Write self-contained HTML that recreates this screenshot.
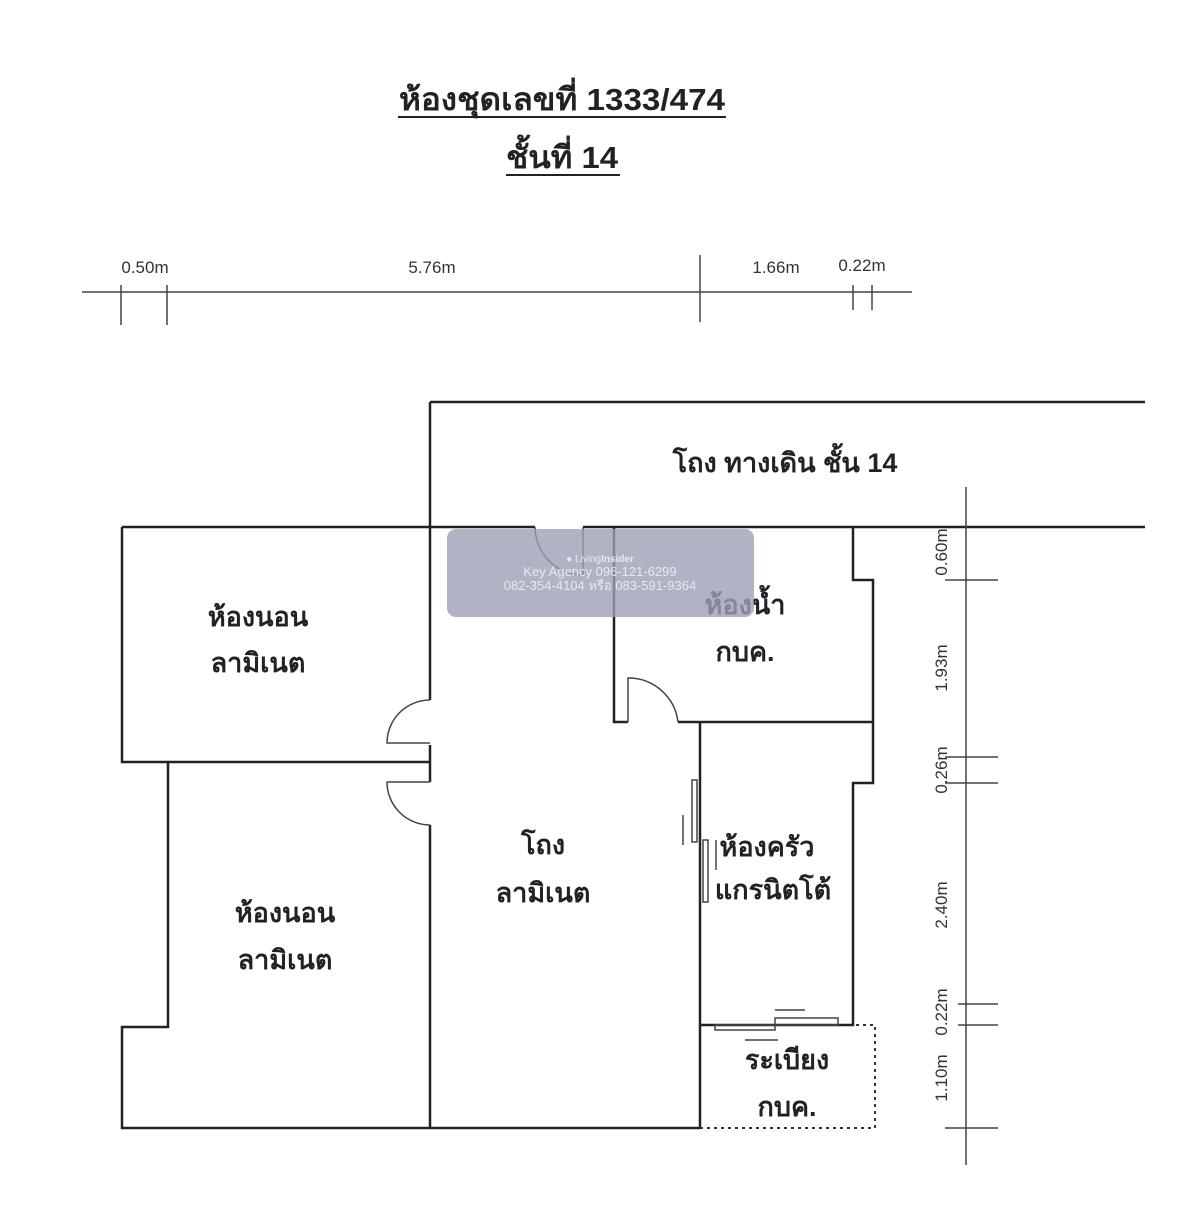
<!DOCTYPE html>
<html><head><meta charset="utf-8"><style>
html,body{margin:0;padding:0;background:#fff;}
svg{display:block;}
text{font-family:"Liberation Sans","Noto Sans CJK SC",sans-serif;}
</style></head><body>
<svg width="1200" height="1210" viewBox="0 0 1200 1210" xmlns="http://www.w3.org/2000/svg">
<rect width="1200" height="1210" fill="#fff"/>
<g font-weight="bold" font-size="31" fill="#222" text-anchor="middle">
<text x="562" y="110" textLength="326" lengthAdjust="spacingAndGlyphs">ห้องชุดเลขที่ 1333/474</text>
<text x="562" y="168" textLength="112" lengthAdjust="spacingAndGlyphs">ชั้นที่ 14</text>
</g>
<line x1="398" y1="117" x2="726" y2="117" stroke="#222" stroke-width="2"/>
<line x1="506" y1="175" x2="620" y2="175" stroke="#222" stroke-width="2"/>

<g stroke="#444" stroke-width="1.5" fill="none">
<line x1="82" y1="292" x2="912" y2="292"/>
<line x1="121" y1="285" x2="121" y2="325"/>
<line x1="167" y1="285" x2="167" y2="325"/>
<line x1="700" y1="255" x2="700" y2="322"/>
<line x1="853" y1="285" x2="853" y2="310"/>
<line x1="872" y1="285" x2="872" y2="310"/>
</g>
<g font-size="17" fill="#333" text-anchor="middle">
<text x="145" y="273">0.50m</text>
<text x="432" y="273">5.76m</text>
<text x="776" y="273">1.66m</text>
<text x="862" y="271">0.22m</text>
</g>

<g stroke="#222" stroke-width="2.5" fill="none">
<line x1="430" y1="402" x2="1145" y2="402"/>
<line x1="430" y1="402" x2="430" y2="700"/>
<line x1="430" y1="745" x2="430" y2="782"/>
<line x1="430" y1="825" x2="430" y2="1128"/>
<line x1="122" y1="527" x2="535" y2="527"/>
<line x1="583" y1="527" x2="1145" y2="527"/>
<polyline points="122,527 122,762 430,762"/>
<polyline points="168,762 168,1027 122,1027 122,1128 700,1128"/>
<polyline points="614,527 614,722 628,722"/>
<line x1="678" y1="722" x2="873" y2="722"/>
<polyline points="853,527 853,580 873,580 873,783 853,783 853,1025 700,1025"/>
<line x1="700" y1="722" x2="700" y2="1128"/>
</g>
<g stroke="#333" stroke-width="2" fill="none" stroke-dasharray="3,4">
<polyline points="700,1128 875,1128 875,1025 853,1025"/>
</g>
<g stroke="#444" stroke-width="1.5" fill="none">
<path d="M430,700 A43,43 0 0 0 387,743 L430,743"/>
<path d="M430,825 A43,43 0 0 1 387,782 L430,782"/>
<path d="M628,722 L628,678 A50,50 0 0 1 678,722"/>
<path d="M535,527 A48,48 0 0 0 583,575 L583,527"/>
<rect x="692" y="780" width="5" height="62"/>
<rect x="703" y="840" width="5" height="62"/>
<line x1="683" y1="815" x2="683" y2="845"/>
<line x1="716" y1="840" x2="716" y2="870"/>
<rect x="715" y="1025" width="60" height="5"/>
<rect x="775" y="1018" width="63" height="7"/>
<line x1="775" y1="1010" x2="805" y2="1010"/>
<line x1="745" y1="1040" x2="778" y2="1040"/>
</g>

<g stroke="#444" stroke-width="1.5" fill="none">
<line x1="966" y1="487" x2="966" y2="1165"/>
<line x1="945" y1="580" x2="998" y2="580"/>
<line x1="945" y1="757" x2="998" y2="757"/>
<line x1="945" y1="783" x2="998" y2="783"/>
<line x1="958" y1="1004" x2="998" y2="1004"/>
<line x1="958" y1="1025" x2="998" y2="1025"/>
<line x1="945" y1="1128" x2="998" y2="1128"/>
</g>
<g font-size="17" fill="#333" text-anchor="middle">
<text transform="translate(947,552) rotate(-90)">0.60m</text>
<text transform="translate(947,668) rotate(-90)">1.93m</text>
<text transform="translate(947,770) rotate(-90)">0.26m</text>
<text transform="translate(947,905) rotate(-90)">2.40m</text>
<text transform="translate(947,1012) rotate(-90)">0.22m</text>
<text transform="translate(947,1078) rotate(-90)">1.10m</text>
</g>

<g font-size="27" font-weight="bold" fill="#222" text-anchor="middle">
<text x="785" y="472">โถง ทางเดิน ชั้น 14</text>
<text x="258" y="626">ห้องนอน</text><text x="258" y="672">ลามิเนต</text>
<text x="285" y="922">ห้องนอน</text><text x="285" y="969">ลามิเนต</text>
<text x="543" y="854">โถง</text><text x="543" y="902">ลามิเนต</text>
<text x="745" y="614">ห้องน้ำ</text><text x="745" y="661">กบค.</text>
<text x="767" y="856">ห้องครัว</text><text x="773" y="899">แกรนิตโต้</text>
<text x="787" y="1069">ระเบียง</text><text x="787" y="1116">กบค.</text>
</g>

<rect x="447" y="529" width="307" height="88" rx="9" fill="#9ea0b6" opacity="0.8"/>
<g fill="#e8e8f0" text-anchor="middle">
<text x="600" y="562" font-size="10">● Living<tspan font-weight="bold">Insider</tspan></text>
<text x="600" y="576" font-size="13">Key Agency 096-121-6299</text>
<text x="600" y="590" font-size="13">082-354-4104 หรือ 083-591-9364</text>
</g>
</svg>
</body></html>
